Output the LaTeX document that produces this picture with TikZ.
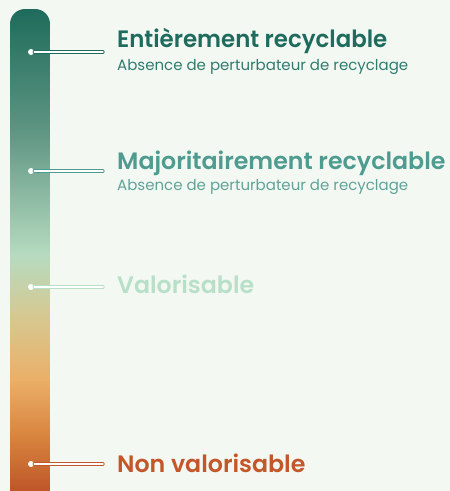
\documentclass[tikz,border=0pt]{standalone}
\usepackage{fontspec}
\setmainfont{Poppins}[BoldFont={Poppins SemiBold}]
\definecolor{bg}{HTML}{F4F8F2}
\definecolor{cA}{HTML}{1E6B5B}
\definecolor{cB}{HTML}{5E9582}
\definecolor{cC}{HTML}{B6DBC0}
\definecolor{cD}{HTML}{D8C78E}
\definecolor{cE}{HTML}{EBAF68}
\definecolor{cF}{HTML}{D8853F}
\definecolor{cG}{HTML}{BE5528}
\definecolor{tA}{HTML}{1F6B5E}
\definecolor{sA}{HTML}{2F7C6E}
\definecolor{tB}{HTML}{4E9B90}
\definecolor{sB}{HTML}{5FA398}
\definecolor{tC}{HTML}{B8E0C8}
\definecolor{tD}{HTML}{C4572A}
\tikzset{
  title/.style={anchor=base west, inner sep=0pt, font=\fontsize{23.7}{26}\selectfont\bfseries},
  sub/.style={anchor=base west, inner sep=0pt, font=\fontsize{15}{17}\selectfont},
  dot/.style={circle, fill=white, inner sep=0pt, minimum size=6pt},
  conn/.style={line width=0.9pt, double=white, double distance=1.4pt, line cap=round},
}
\begin{document}
\begin{tikzpicture}[x=1pt,y=-1pt]
\fill[bg] (0,0) rectangle (450,491);
\useasboundingbox (0,0) rectangle (450,491);
\begin{scope}
\clip[rounded corners=15pt] (10,9) rectangle (50,510);
\shade[top color=cA, bottom color=cB] (10,8) rectangle (50,130.5);
\shade[top color=cB, bottom color=cC] (10,130) rectangle (50,255.5);
\shade[top color=cC, bottom color=cD] (10,255) rectangle (50,320.5);
\shade[top color=cD, bottom color=cE] (10,320) rectangle (50,380.5);
\shade[top color=cE, bottom color=cF] (10,380) rectangle (50,435.5);
\shade[top color=cF, bottom color=cG] (10,435) rectangle (50,492);
\end{scope}
\coordinate (e1) at (103,52);
\coordinate (e2) at (103,171);
\coordinate (e3) at (103,287);
\coordinate (e4) at (103,464);
\node[dot] (d1) at (31,52) {};
\node[dot] (d2) at (31,171) {};
\node[dot] (d3) at (31,287) {};
\node[dot] (d4) at (31,464) {};
\draw[conn, draw=tA] (d1.east) -- (e1);
\draw[conn, draw=tB] (d2.east) -- (e2);
\draw[conn, draw=tC] (d3.east) -- (e3);
\draw[conn, draw=tD] (d4.east) -- (e4);
\node[title, text=tA] (t1) at (117,47.3) {\scalebox{0.965}[1]{Entièrement recyclable}};
\node[sub, text=sA] (s1) at (117,70) {Absence de perturbateur de recyclage};
\node[title, text=tB] (t2) at (117,169) {Majoritairement recyclable};
\node[sub, text=sB] (s2) at (117,190) {Absence de perturbateur de recyclage};
\node[title, text=tC] (t3) at (117,293) {Valorisable};
\node[title, text=tD] (t4) at (117,472) {Non valorisable};
\end{tikzpicture}
\end{document}
